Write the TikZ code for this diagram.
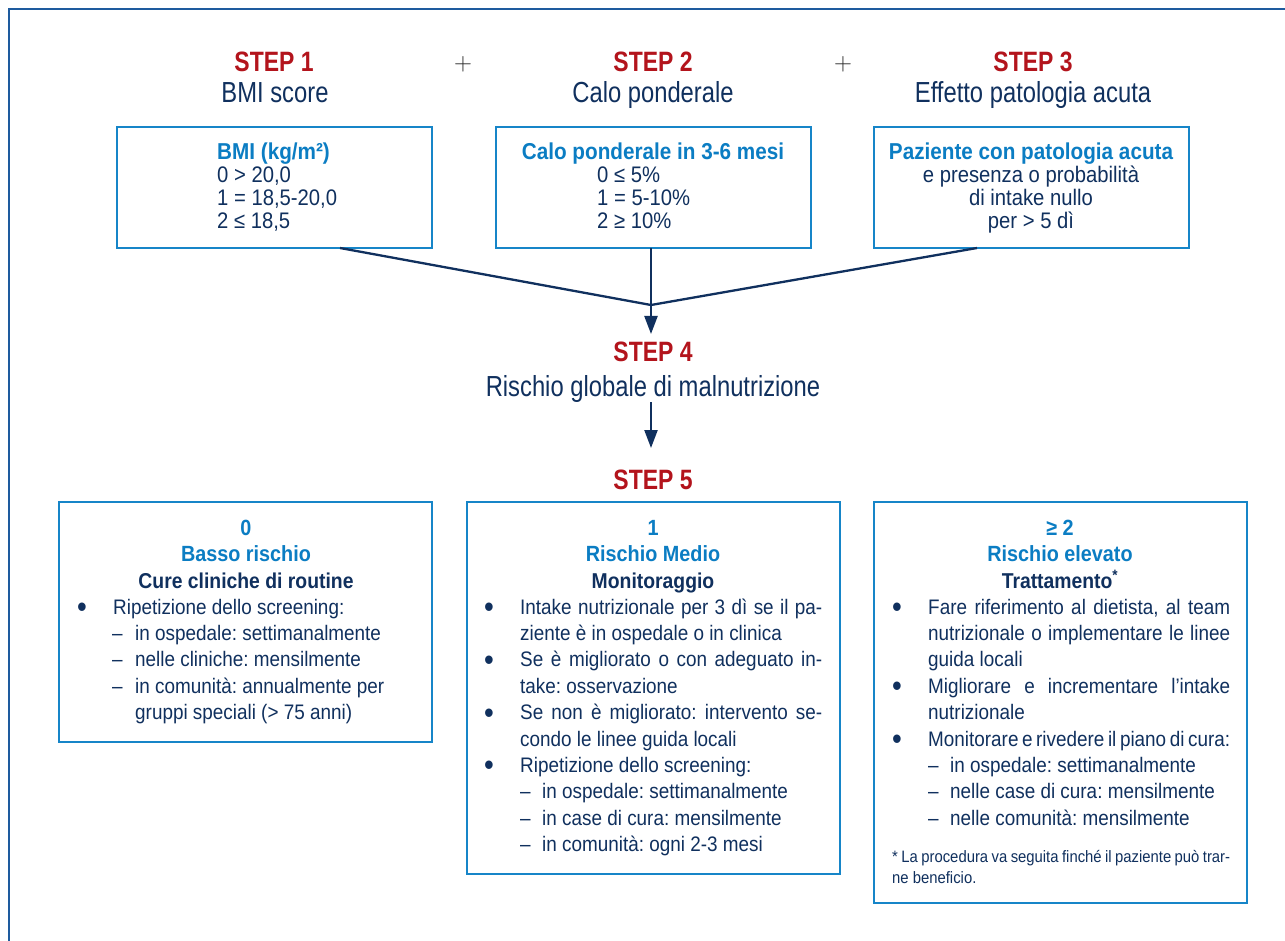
\documentclass[tikz,border=0pt]{standalone}
\usepackage{fontspec}
\setmainfont{Liberation Sans}[FakeStretch=0.9]
\newfontfamily\hdfont{Liberation Sans}[FakeStretch=0.82]
\usetikzlibrary{arrows.meta}
\definecolor{navy}{HTML}{10305E}
\definecolor{stepred}{HTML}{B3141C}
\definecolor{ltblue}{HTML}{0B7DC3}
\definecolor{boxblue}{HTML}{1685C8}
\definecolor{frameblue}{HTML}{1E5B9E}
\newcommand{\justline}[2]{\makebox[#1][s]{#2}}
\frenchspacing
\begin{document}
\begin{tikzpicture}[x=1pt,y=-1pt,
  frame/.style={draw=frameblue, line width=2pt},
  box/.style={draw=boxblue, line width=2.2pt, anchor=north west, inner sep=0pt, outer sep=0pt},
  steplbl/.style={text=stepred, font=\hdfont\bfseries\fontsize{28}{30}\selectfont, anchor=base, inner sep=0pt},
  sublbl/.style={text=navy, font=\hdfont\fontsize{29}{31}\selectfont, anchor=base, inner sep=0pt},
  plus/.style={text=black!85, font=\fontsize{24}{26}\selectfont, anchor=base, inner sep=0pt},
  ttl/.style={text=ltblue, font=\bfseries\fontsize{23}{25}\selectfont, inner sep=0pt},
  tt/.style={text=navy, font=\fontsize{22.5}{24}\selectfont, inner sep=0pt},
  bttl/.style={text=ltblue, font=\bfseries\fontsize{22}{24}\selectfont, anchor=base, inner sep=0pt},
  bsub/.style={text=navy, font=\bfseries\fontsize{21.5}{24}\selectfont, anchor=base, inner sep=0pt},
  bt/.style={text=navy, font=\frenchspacing\fontsize{21}{24}\selectfont, anchor=base west, inner sep=0pt},
  bul/.style={text=navy, font=\fontsize{31}{33}\selectfont, anchor=base, inner sep=0pt, yshift=-3.5pt},
  fn/.style={text=navy, font=\frenchspacing\fontsize{16.5}{19}\selectfont, anchor=base west, inner sep=0pt},
  joinline/.style={draw=navy, line width=2.3pt},
  arr/.style={draw=navy, line width=2.3pt, -{Triangle[length=18pt,width=13pt]}}
]
\useasboundingbox (0,0) rectangle (1285,941);
\fill[white] (0,0) rectangle (1285,941);
% outer frame
\draw[frame] (9,941) -- (9,9) -- (1285,9);

% step headings
\node[steplbl] (s1) at (274,72) {STEP 1};
\node[sublbl] (s1t) at (275,103) {BMI score};
\node[steplbl] (s2) at (653,72) {STEP 2};
\node[sublbl] (s2t) at (653,103) {Calo ponderale};
\node[steplbl] (s3) at (1033,72) {STEP 3};
\node[sublbl] (s3t) at (1033,103) {Effetto patologia acuta};
\node[plus] (p1) at (463,71) {$+$};
\node[plus] (p2) at (843,71) {$+$};

% top boxes
\node[box, minimum width=315pt, minimum height=121pt] (b1) at (117,127) {};
\node[box, minimum width=315pt, minimum height=121pt] (b2) at (496,127) {};
\node[box, minimum width=315pt, minimum height=121pt] (b3) at (874,127) {};

\node[ttl, anchor=base west] (b1a) at (217,159.5) {BMI (kg/m²)};
\node[tt, anchor=base west] (b1b) at (217,182.5) {0 > 20,0};
\node[tt, anchor=base west] (b1c) at (217,205.5) {1 = 18,5-20,0};
\node[tt, anchor=base west] (b1d) at (217,228.5) {2 ≤ 18,5};

\node[ttl, anchor=base] (b2a) at (653,159.5) {Calo ponderale in 3-6 mesi};
\node[tt, anchor=base west] (b2b) at (597,182.5) {0 ≤ 5\%};
\node[tt, anchor=base west] (b2c) at (597,205.5) {1 = 5-10\%};
\node[tt, anchor=base west] (b2d) at (597,228.5) {2 ≥ 10\%};

\node[ttl, anchor=base] (b3a) at (1031,159.5) {Paziente con patologia acuta};
\node[tt, anchor=base] (b3b) at (1031,182.5) {e presenza o probabilità};
\node[tt, anchor=base] (b3c) at (1031,205.5) {di intake nullo};
\node[tt, anchor=base] (b3d) at (1031,228.5) {per > 5 dì};

% connectors
\coordinate (j) at (651,305);
\coordinate (a1tip) at (651,334);
\coordinate (a2tip) at (651,448);
\draw[joinline] ([xshift=65.5pt]b1.south) -- (j);
\draw[joinline] ([xshift=-54.5pt]b3.south) -- (j);
\draw[arr] (b2.south -| j) -- (a1tip);

\node[steplbl] (s4) at (653,361) {STEP 4};
\node[sublbl] (s4t) at (653,396) {Rischio globale di malnutrizione};
\draw[arr] (s4t.south -| a2tip) -- (a2tip);
\node[steplbl] (s5) at (653,489) {STEP 5};

% bottom boxes
\node[box, minimum width=373pt, minimum height=240pt] (bl) at (59,502) {};
\node[box, minimum width=373pt, minimum height=372pt] (bm) at (467,502) {};
\node[box, minimum width=373pt, minimum height=401pt] (br) at (874,502) {};

% left box
\node[bttl] (l0) at (246,535.5) {0};
\node[bttl] (l1) at (246,561.5) {Basso rischio};
\node[bsub] (l2) at (246,588) {Cure cliniche di routine};
\node[bul] (lb1) at (82,614) {•};
\node[bt] (l3) at (113,614) {Ripetizione dello screening:};
\node[bt] (ld1) at (112,640.4) {–};
\node[bt] (l4) at (135,640.4) {in ospedale: settimanalmente};
\node[bt] (ld2) at (112,666.8) {–};
\node[bt] (l5) at (135,666.8) {nelle cliniche: mensilmente};
\node[bt] (ld3) at (112,693.2) {–};
\node[bt] (l6) at (135,693.2) {in comunità: annualmente per};
\node[bt] (l7) at (135,719.6) {gruppi speciali (> 75 anni)};

% middle box
\node[bttl] (m0) at (653,535.5) {1};
\node[bttl] (m1) at (653,561.5) {Rischio Medio};
\node[bsub] (m2) at (653,588) {Monitoraggio};
\node[bul] (mb1) at (489,614) {•};
\node[bt] (m3) at (520,614) {\justline{302pt}{Intake nutrizionale per 3 dì se il pa-}};
\node[bt] (m4) at (520,640.4) {ziente è in ospedale o in clinica};
\node[bul] (mb2) at (489,666.8) {•};
\node[bt] (m5) at (520,666.8) {\justline{302pt}{Se è migliorato o con adeguato in-}};
\node[bt] (m6) at (520,693.2) {take: osservazione};
\node[bul] (mb3) at (489,719.6) {•};
\node[bt] (m7) at (520,719.6) {\justline{302pt}{Se non è migliorato: intervento se-}};
\node[bt] (m8) at (520,746) {condo le linee guida locali};
\node[bul] (mb4) at (489,772.4) {•};
\node[bt] (m9) at (520,772.4) {Ripetizione dello screening:};
\node[bt] (md1) at (520,798.8) {–};
\node[bt] (m10) at (542,798.8) {in ospedale: settimanalmente};
\node[bt] (md2) at (520,825.2) {–};
\node[bt] (m11) at (542,825.2) {in case di cura: mensilmente};
\node[bt] (md3) at (520,851.6) {–};
\node[bt] (m12) at (542,851.6) {in comunità: ogni 2-3 mesi};

% right box
\node[bttl] (r0) at (1060,535.5) {≥ 2};
\node[bttl] (r1) at (1060,561.5) {Rischio elevato};
\node[bsub] (r2) at (1060,588) {Trattamento\textsuperscript{*}};
\node[bul] (rb1) at (897,614) {•};
\node[bt] (r3) at (928,614) {\justline{302pt}{Fare riferimento al dietista, al team}};
\node[bt] (r4) at (928,640.4) {\justline{302pt}{nutrizionale o implementare le linee}};
\node[bt] (r5) at (928,666.8) {guida locali};
\node[bul] (rb2) at (897,693.2) {•};
\node[bt] (r6) at (928,693.2) {\justline{302pt}{Migliorare e incrementare l’intake}};
\node[bt] (r7) at (928,719.6) {nutrizionale};
\node[bul] (rb3) at (897,746) {•};
\node[bt] (r8) at (928,746) {\justline{302pt}{Monitorare e rivedere il piano di cura:}};
\node[bt] (rd1) at (928,772.4) {–};
\node[bt] (r9) at (950,772.4) {in ospedale: settimanalmente};
\node[bt] (rd2) at (928,798.8) {–};
\node[bt] (r10) at (950,798.8) {nelle case di cura: mensilmente};
\node[bt] (rd3) at (928,825.2) {–};
\node[bt] (r11) at (950,825.2) {nelle comunità: mensilmente};
\node[fn] (rf1) at (892,862.5) {\justline{338pt}{* La procedura va seguita finché il paziente può trar-}};
\node[fn] (rf2) at (892,883.5) {ne beneficio.};
\end{tikzpicture}
\end{document}
